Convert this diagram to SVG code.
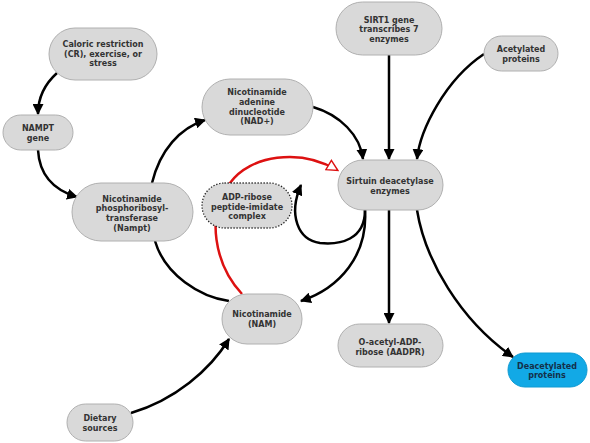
<svg xmlns="http://www.w3.org/2000/svg" width="590" height="443" viewBox="0 0 590 443">
<defs>
<style>
.n{fill:#d9d9d9;stroke:#b0b0b0;stroke-width:1}
.t{font-family:"DejaVu Sans",Verdana,sans-serif;font-weight:bold;font-size:8px;fill:#333;text-anchor:middle}
.c{fill:none;stroke:#000;stroke-width:2.5}
</style>
<marker id="ah" viewBox="0 0 10 10" refX="9" refY="5" markerWidth="11" markerHeight="11" markerUnits="userSpaceOnUse" orient="auto">
<path d="M0,0 L10,5 L0,10 z" fill="#000"/>
</marker>
<marker id="rh" viewBox="0 0 12 12" refX="10" refY="6" markerWidth="13" markerHeight="13" markerUnits="userSpaceOnUse" orient="auto">
<path d="M1,1 L11,6 L1,11 z" fill="#fff" stroke="#d11" stroke-width="1.3"/>
</marker>
</defs>
<rect width="590" height="443" fill="#fff"/>
<g id="connectors">
<path class="c" d="M57,73 Q38,90 38,114" marker-end="url(#ah)"/>
<path class="c" d="M38,150 Q40,186 77,197" marker-end="url(#ah)"/>
<path class="c" d="M152,183 C160,150 180,128 205,120" marker-end="url(#ah)"/>
<path class="c" d="M155,241 C165,275 200,297 229,301"/>
<path class="c" d="M313,107 C340,115 360,135 363,159" marker-end="url(#ah)"/>
<path class="c" d="M389,55 L389,159" marker-end="url(#ah)"/>
<path class="c" d="M484,54 C445,80 420,130 417,159" marker-end="url(#ah)"/>
<path d="M242,294 C215,265 205,215 230,183 C250,155 300,148 337,170" fill="none" stroke="#d11" stroke-width="2.5" marker-end="url(#rh)"/>
<path class="c" d="M365,210 C365,240 340,245 320,243 C298,240 288,215 301,185" marker-end="url(#ah)"/>
<path class="c" d="M365,210 C368,255 340,288 301,301" marker-end="url(#ah)"/>
<path class="c" d="M389,210 L389,323" marker-end="url(#ah)"/>
<path class="c" d="M417,210 C425,260 460,320 513,357" marker-end="url(#ah)"/>
<path class="c" d="M131,413 C175,400 210,370 229,339" marker-end="url(#ah)"/>
</g>
<g id="caloric"><rect class="n" x="49" y="28" width="108" height="52" rx="26"/>
<text class="t" x="103" y="47">Caloric restriction</text><text class="t" x="103" y="57">(CR), exercise, or</text><text class="t" x="103" y="66">stress</text></g>
<g id="nampt-gene"><rect class="n" x="3" y="115" width="70" height="35" rx="17.5"/>
<text class="t" x="38" y="131">NAMPT</text><text class="t" x="38" y="141">gene</text></g>
<g id="nad"><rect class="n" x="202" y="79" width="111" height="56" rx="28"/>
<text class="t" x="257" y="95">Nicotinamide</text><text class="t" x="257" y="105">adenine</text><text class="t" x="257" y="115">dinucleotide</text><text class="t" x="257" y="124">(NAD+)</text></g>
<g id="sirt1"><rect class="n" x="336" y="2" width="106" height="53" rx="26.5"/>
<text class="t" x="389" y="23">SIRT1 gene</text><text class="t" x="389" y="32">transcribes 7</text><text class="t" x="389" y="42">enzymes</text></g>
<g id="acetylated"><rect class="n" x="484" y="36" width="74" height="35" rx="17.5"/>
<text class="t" x="521" y="52">Acetylated</text><text class="t" x="521" y="62">proteins</text></g>
<g id="sirtuin"><rect class="n" x="338" y="160" width="105" height="50" rx="25"/>
<text class="t" x="390" y="184">Sirtuin deacetylase</text><text class="t" x="390" y="194">enzymes</text></g>
<g id="nampt"><rect class="n" x="72" y="183" width="121" height="58" rx="29"/>
<text class="t" x="132" y="202">Nicotinamide</text><text class="t" x="132" y="211">phosphoribosyl-</text><text class="t" x="132" y="221">transferase</text><text class="t" x="132" y="231">(Nampt)</text></g>
<g id="complex"><rect x="202" y="183" width="90" height="45" rx="22.5" fill="#d9d9d9" stroke="#222" stroke-width="1.3" stroke-dasharray="1.3,1.7"/>
<text class="t" x="247" y="200">ADP-ribose</text><text class="t" x="247" y="210">peptide-imidate</text><text class="t" x="247" y="219">complex</text></g>
<g id="nam"><rect class="n" x="222" y="294" width="80" height="50" rx="25"/>
<text class="t" x="262" y="317">Nicotinamide</text><text class="t" x="262" y="327">(NAM)</text></g>
<g id="oacetyl"><rect class="n" x="338" y="324" width="105" height="43" rx="21.5"/>
<text class="t" x="390" y="345">O-acetyl-ADP-</text><text class="t" x="390" y="355">ribose (AADPR)</text></g>
<g id="deacetylated"><rect x="508" y="353" width="79" height="34" rx="17" fill="#12a9e6" stroke="#0f9ad2" stroke-width="1"/>
<text class="t" x="547" y="369" style="fill:#14304a">Deacetylated</text><text class="t" x="547" y="378" style="fill:#14304a">proteins</text></g>
<g id="dietary"><rect class="n" x="67" y="404" width="66" height="37" rx="18.5"/>
<text class="t" x="100" y="421">Dietary</text><text class="t" x="100" y="431">sources</text></g>
</svg>
